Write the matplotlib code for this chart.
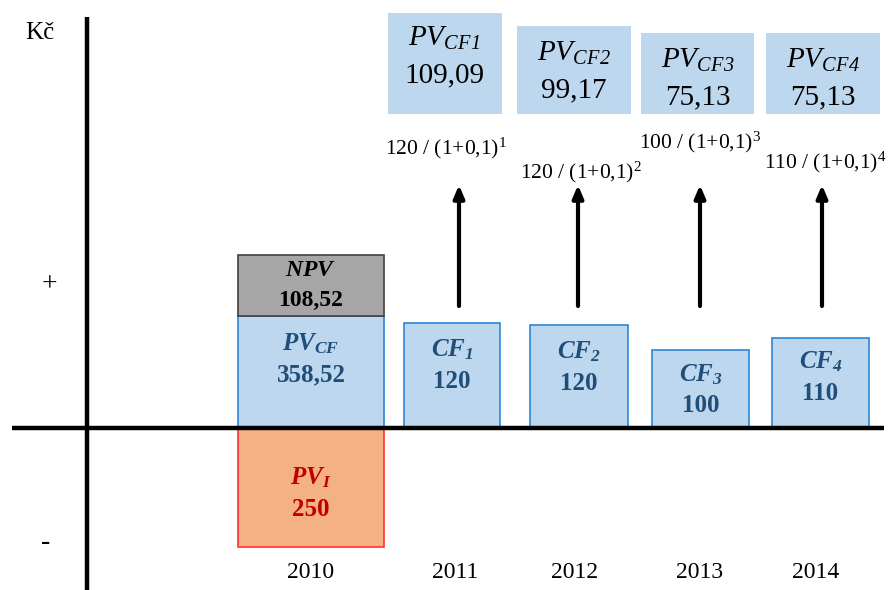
import matplotlib
matplotlib.use("Agg")
import matplotlib.pyplot as plt

plt.rcParams['font.family'] = ['Liberation Serif', 'DejaVu Serif']
plt.rcParams['mathtext.fontset'] = 'custom'
plt.rcParams['mathtext.rm'] = 'Liberation Serif'
plt.rcParams['mathtext.it'] = 'Liberation Serif:italic'
plt.rcParams['mathtext.sf'] = 'Liberation Serif:italic'
plt.rcParams['mathtext.bf'] = 'Liberation Serif:bold'
plt.rcParams['mathtext.bfit'] = 'Liberation Serif:italic:bold'

# ---- data ----
years = ["2010", "2011", "2012", "2013", "2014"]
investment = 250
pv_cf_total = "358,52"
npv = "108,52"
cf_values = [120, 120, 100, 110]
pv_values = ["109,09", "99,17", "75,13", "75,13"]
rate = "0,1"

# ---- layout (pixel-like units, 0 = horizontal axis) ----
BLUE_FILL = "#BDD7EE"
BLUE_EDGE = "#2E86D6"
BLUE_TEXT = "#1F4E79"
fig = plt.figure(figsize=(8.91, 5.90), dpi=100)
ax = fig.add_axes([0, 0, 1, 1])
ax.set_xlim(0, 891)
ax.set_ylim(-162, 428)
ax.axis("off")

# axes lines
ax.plot([87, 87], [411, -165], color="black", lw=3.2, solid_capstyle="butt", zorder=5)
ax.plot([12, 884], [0, 0], color="black", lw=3.2, solid_capstyle="butt", zorder=5)
ax.text(40, 395, "Kč", fontsize=18, ha="center", va="center")
ax.text(49, 143, "+", fontsize=20, ha="center", va="center")
ax.text(46, -114, "-", fontsize=20, ha="center", va="center")

# 2010 stack
x0, w0 = 311, 146
ax.bar(x0, -119, w0, bottom=0, color="#F4B183", edgecolor="#FF3333", lw=1.2, zorder=2)
ax.bar(x0, 112, w0, bottom=0, color=BLUE_FILL, edgecolor=BLUE_EDGE, lw=1.2, zorder=2)
ax.bar(x0, 61, w0, bottom=112, color="#A6A6A6", edgecolor="#404040", lw=1.2, zorder=2)
ax.text(x0, 157, r"$\mathbfit{NPV}$", fontsize=17, ha="center", va="center", color="black")
ax.text(x0, 128, npv, fontsize=17, fontweight="bold", ha="center", va="center", color="black")
ax.text(x0, 84, r"$\mathbfit{PV_{CF}}$", fontsize=18, ha="center", va="center", color=BLUE_TEXT)
ax.text(x0, 53, pv_cf_total, fontsize=18, fontweight="bold", ha="center", va="center", color=BLUE_TEXT)
ax.text(x0, -50, r"$\mathbfit{PV_{I}}$", fontsize=18, ha="center", va="center", color="#C00000")
ax.text(x0, -82, str(investment), fontsize=18, fontweight="bold", ha="center", va="center", color="#C00000")

# cash-flow bars
cf_x = [452, 579, 700.5, 820.5]
cf_w = [96, 98, 97, 97]
cf_h = [105, 103, 78, 90]
cf_lbl_y = [78, 76, 53, 66]
ax.bar(cf_x, cf_h, cf_w, bottom=0, color=BLUE_FILL, edgecolor=BLUE_EDGE, lw=1.2, zorder=2)
for i, (x, v, ly) in enumerate(zip(cf_x, cf_values, cf_lbl_y)):
    ax.text(x, ly, r"$\mathbfit{CF_{%d}}$" % (i + 1), fontsize=18, ha="center", va="center", color=BLUE_TEXT)
    ax.text(x, ly - 31, str(v), fontsize=18, fontweight="bold", ha="center", va="center", color=BLUE_TEXT)

# arrows
arr_x = [459, 578, 700, 822]
for x in arr_x:
    ax.annotate("", xy=(x, 243), xytext=(x, 122),
                arrowprops=dict(arrowstyle="-|>,head_length=0.75,head_width=0.32",
                                color="black", lw=3.0, shrinkA=0, shrinkB=0))

# formulas
f_x = [446, 581, 700, 825]
f_y = [280, 256, 286, 266]
for i, (x, y, v) in enumerate(zip(f_x, f_y, cf_values)):
    ax.text(x, y, "%d / (1+%s)$^{%d}$" % (v, rate, i + 1), fontsize=15.5, ha="center", va="center")

# PV boxes
pv_x = [444.5, 574, 697.5, 823]
pv_w = [114, 114, 113, 114]
pv_h = [101, 88, 81, 81]
pv_lbl_y = [390, 375, 368, 368]
ax.bar(pv_x, pv_h, pv_w, bottom=314, color=BLUE_FILL, edgecolor="none", zorder=2)
for i, (x, v, ly) in enumerate(zip(pv_x, pv_values, pv_lbl_y)):
    ax.text(x, ly, r"$\mathsf{PV_{CF%d}}$" % (i + 1), fontsize=21, ha="center", va="center", color="black")
    ax.text(x, ly - 37, v, fontsize=21, ha="center", va="center", color="black")

# year labels
year_x = [311, 455, 575, 700, 816]
for x, yv in zip(year_x, years):
    ax.text(x, -145, yv, fontsize=17, ha="center", va="center")

fig.savefig("out.png", dpi=100)
